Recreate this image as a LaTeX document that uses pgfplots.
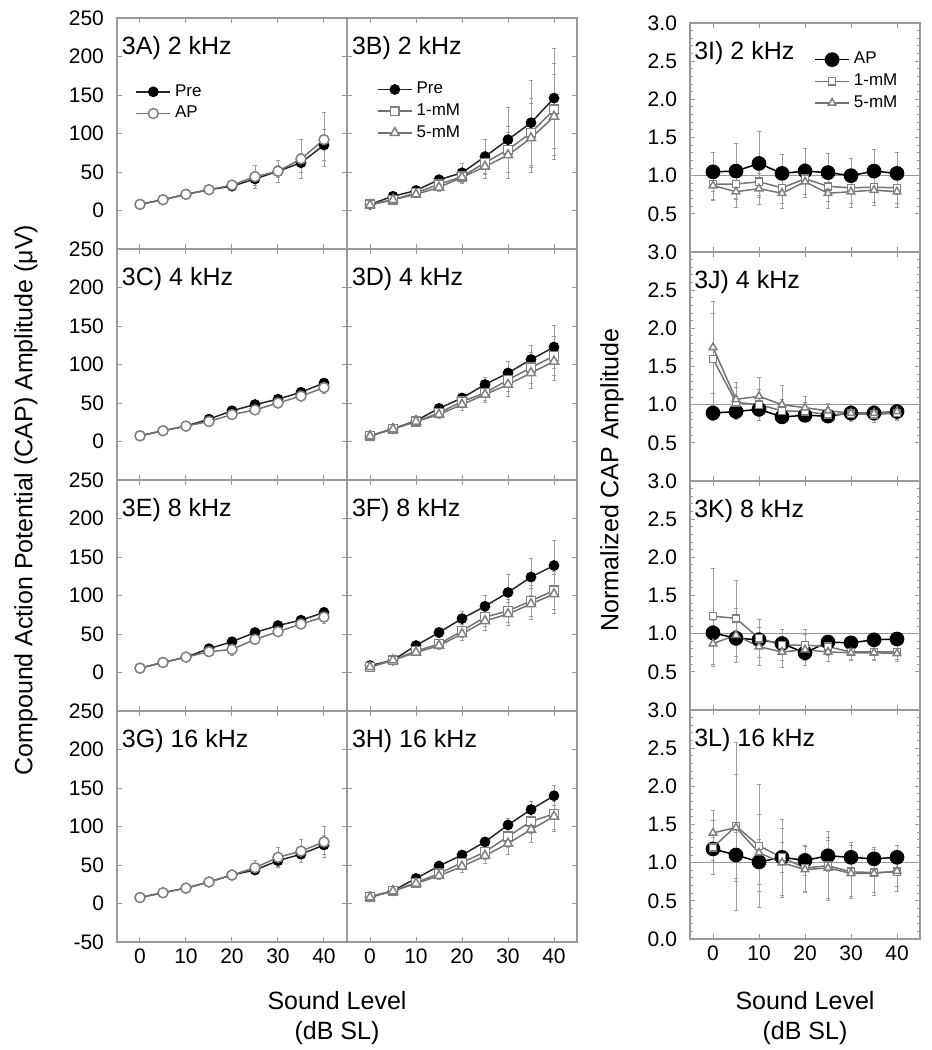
\documentclass[border=0pt]{standalone}
\usepackage{fontspec}
\setmainfont{Liberation Sans}
\usepackage{pgfplots}
\usepackage{pgfplotstable}
\pgfplotsset{compat=1.18}

\definecolor{axgray}{gray}{0.6}
\definecolor{lingray}{gray}{0.45}
\definecolor{mkgray}{gray}{0.5}
\definecolor{errgray}{gray}{0.62}

% ---------- data (amplitude panels): x, Pre, err, AP/1mM, err, 5mM, err
\pgfplotstableread{
x pre preE ap apE
0 8 1 8 1
5 14 2 14 2
10 21 2 21 3
15 27 3 27 3
20 31.5 4 33 5
25 41 8 44 15
30 51 8 51 14
35 62 12 67 25
40 85 20 92 35
}\tA
\pgfplotstableread{
x pre preE ma maE mb mbE
0 8 1 8 1 7 1
5 18.5 3 14 2 14 2
10 26 4 23 3 21 3
15 40 6 34 5 30 5
20 49 12 44 8 43 8
25 70 22 62 15 57 15
30 92 42 79 30 72 30
35 114 55 101 45 94 45
40 146 65 131 60 122 55
}\tB
\pgfplotstableread{
x pre preE ap apE
0 7.4 1 7.4 1
5 14 1.5 14 1.5
10 20 2 20 2
15 29 3 26 3
20 40 3 35 4
25 48 4 41 4
30 55 4 50 5
35 64 5 59 6
40 76 5 70 7
}\tC
\pgfplotstableread{
x pre preE ma maE mb mbE
0 7.4 1 7.4 1 7 1
5 16.5 2 16.5 2 16 2
10 27 3 26 3 26 3
15 43 4 37 5 35 5
20 56.5 6 52 8 48 8
25 74 9 63 10 61 10
30 89 15 80 15 74 15
35 106.5 18 96 20 89 20
40 122.6 28 111 25 104 25
}\tD
\pgfplotstableread{
x pre preE ap apE
0 5.7 1 5.7 1
5 13 1.5 13 1.5
10 20 2 20 2
15 31 3 27 3
20 40 3 30 8
25 52 4 43 5
30 61 4 53 5
35 68 5 63 6
40 78 7 72 8
}\tE
\pgfplotstableread{
x pre preE ma maE mb mbE
0 9 1 7 1 7 1
5 16 2 16 2 16 2
10 35 4 28 3 26 3
15 52 6 37 5 35 5
20 70 10 54 8 50 8
25 86 14 72 12 67 12
30 104 24 80 15 76 15
35 124 24 93 20 89 20
40 139 33 106.5 25 102 25
}\tF
\pgfplotstableread{
x pre preE ap apE
0 7.8 1 7.8 1
5 14 1.5 14 1.5
10 20 2 20 2
15 28 3 28 3
20 37 4 37 4
25 43.5 6 46.5 9
30 55.6 8 60 13
35 64 10 68 15
40 76 12 80 20
}\tG
\pgfplotstableread{
x pre preE ma maE mb mbE
0 8.7 1 8.7 1 8 1
5 16.5 2 16.5 2 16 2
10 32.6 3 27 3 26 3
15 48.7 4 39 5 36 5
20 63 5 53 7 48 7
25 80 6 67 10 62 10
30 102 8 87 14 78 14
35 122 10 106.5 16 96 16
40 140 13 116.5 20 113 20
}\tH
% ---------- normalized panels: x, AP, err, 1mM, err, 5mM, err
\pgfplotstableread{
x pre preE ma maE mb mbE
0 1.05 0.26 0.89 0.2 0.87 0.2
5 1.06 0.36 0.89 0.2 0.79 0.2
10 1.16 0.42 0.92 0.2 0.83 0.2
15 1.03 0.25 0.84 0.2 0.77 0.2
20 1.06 0.30 0.96 0.2 0.92 0.2
25 1.04 0.25 0.86 0.2 0.77 0.2
30 1.00 0.22 0.84 0.2 0.79 0.2
35 1.06 0.28 0.85 0.2 0.81 0.2
40 1.03 0.28 0.84 0.2 0.79 0.2
}\tI
\pgfplotstableread{
x pre preE ma maE mb mbE
0 0.89 0.10 1.60 0.60 1.75 0.60
5 0.91 0.10 1.03 0.20 1.07 0.22
10 0.94 0.10 1.00 0.20 1.11 0.25
15 0.84 0.08 0.92 0.15 1.00 0.25
20 0.86 0.08 0.91 0.12 0.96 0.15
25 0.85 0.08 0.87 0.10 0.92 0.10
30 0.89 0.08 0.88 0.10 0.89 0.10
35 0.89 0.08 0.87 0.10 0.89 0.10
40 0.91 0.08 0.89 0.10 0.91 0.10
}\tJ
\pgfplotstableread{
x pre preE ma maE mb mbE
0 1.01 0.10 1.23 0.63 0.87 0.30
5 0.94 0.10 1.20 0.50 0.98 0.35
10 0.92 0.10 0.94 0.25 0.83 0.25
15 0.87 0.10 0.85 0.20 0.76 0.20
20 0.75 0.10 0.85 0.20 0.79 0.20
25 0.89 0.08 0.83 0.12 0.76 0.12
30 0.88 0.08 0.76 0.10 0.75 0.10
35 0.92 0.08 0.76 0.10 0.75 0.10
40 0.93 0.08 0.76 0.10 0.74 0.10
}\tK
\pgfplotstableread{
x pre preE ma maE mb mbE
0 1.18 0.15 1.20 0.35 1.39 0.30
5 1.10 0.30 1.48 1.10 1.46 0.70
10 1.01 0.30 1.22 0.80 1.13 0.50
15 1.07 0.20 1.07 0.50 1.00 0.45
20 1.03 0.20 0.93 0.30 0.91 0.30
25 1.09 0.20 0.96 0.45 0.93 0.40
30 1.07 0.20 0.88 0.35 0.86 0.30
35 1.05 0.15 0.87 0.30 0.86 0.25
40 1.07 0.15 0.88 0.25 0.89 0.20
}\tL

\tikzset{plab/.style={anchor=west, inner sep=0pt, font=\fontsize{12.5}{14}\selectfont}}

\pgfplotsset{
  base/.style={scale only axis, width=115pt, xmin=-5, xmax=45,
    axis line style={axgray, line width=0.6pt},
    tick style={axgray, line width=0.5pt}, tick align=inside,
    major tick length=2.5pt, minor tick length=1.5pt,
    xtick={0,10,20,30,40}, xticklabels={},
    ticklabel style={font=\fontsize{10.5}{12}\selectfont},
    yticklabel style={xshift=-3pt},
    /pgf/number format/assume math mode=true,
    anchor=north west},
  ampl/.style={base, height=115.5pt, ymin=-50, ymax=250, ytick={0,50,...,250}},
  norm/.style={base, height=114.5pt, ymin=0, ymax=3, ytick={0.5,1,...,3},
    minor y tick num=4,
    yticklabel style={/pgf/number format/.cd, fixed, fixed zerofill, precision=1}},
  noy/.style={yticklabels={}},
  botx/.style={xticklabels={0,10,20,30,40}},
  errs/.style={/pgfplots/error bars/y dir=both, /pgfplots/error bars/y explicit,
    /pgfplots/error bars/error bar style={errgray, line width=0.4pt},
    /pgfplots/error bars/error mark options={errgray, line width=0.4pt, mark size=1.2pt, rotate=90}},
  spre/.style={errs, black!85, line width=0.75pt, mark=*, mark size=2.3pt,
    mark options={fill=black, draw=black, solid}},
  sap/.style={errs, lingray, line width=0.75pt, mark=*, mark size=2.5pt,
    mark options={fill=white, draw=mkgray, solid}},
  sma/.style={errs, lingray, line width=0.75pt, mark=square*, mark size=2.2pt,
    mark options={fill=white, draw=mkgray, solid}},
  smb/.style={errs, lingray, line width=0.75pt, mark=triangle*, mark size=2.6pt,
    mark options={fill=white, draw=mkgray, solid}},
  nap/.style={errs, black, line width=0.75pt, mark=*, mark size=3.3pt,
    mark options={fill=black, draw=black, solid}},
  nma/.style={errs, lingray, line width=0.75pt, mark=square*, mark size=1.8pt,
    mark options={fill=white, draw=mkgray, solid}},
  nmb/.style={errs, lingray, line width=0.75pt, mark=triangle*, mark size=2.2pt,
    mark options={fill=white, draw=mkgray, solid}},
  leg/.style={legend style={draw=none, fill=none, anchor=north west,
    font=\fontsize{8.5}{10}\selectfont, row sep=-0.5pt, inner sep=1pt},
    legend cell align=left},
}

\begin{document}
\begin{tikzpicture}
\useasboundingbox (0,0) rectangle (466pt,-525pt);

% ---------------- left column (amplitude, Pre vs AP)
\begin{axis}[ampl, at={(58.5pt,-9pt)}, leg, legend style={at={(0.07,0.74)}}]
\addplot[spre] table[x=x,y=pre,y error=preE]{\tA};
\addplot[sap] table[x=x,y=ap,y error=apE]{\tA};
\legend{Pre,AP}
\node[plab] at (rel axis cs:0.02,0.87) {3A) 2 kHz};
\end{axis}
\begin{axis}[ampl, at={(58.5pt,-124.5pt)}]
\addplot[spre] table[x=x,y=pre,y error=preE]{\tC};
\addplot[sap] table[x=x,y=ap,y error=apE]{\tC};
\node[plab] at (rel axis cs:0.02,0.87) {3C) 4 kHz};
\end{axis}
\begin{axis}[ampl, at={(58.5pt,-240pt)}]
\addplot[spre] table[x=x,y=pre,y error=preE]{\tE};
\addplot[sap] table[x=x,y=ap,y error=apE]{\tE};
\node[plab] at (rel axis cs:0.02,0.87) {3E) 8 kHz};
\end{axis}
\begin{axis}[ampl, botx, at={(58.5pt,-355.5pt)}, ytick={-50,0,...,250}]
\addplot[spre] table[x=x,y=pre,y error=preE]{\tG};
\addplot[sap] table[x=x,y=ap,y error=apE]{\tG};
\node[plab] at (rel axis cs:0.02,0.87) {3G) 16 kHz};
\end{axis}

% ---------------- middle column (amplitude, Pre vs 1-mM vs 5-mM)
\begin{axis}[ampl, noy, at={(173.5pt,-9pt)}, leg, legend style={at={(0.12,0.75)}}]
\addplot[spre] table[x=x,y=pre,y error=preE]{\tB};
\addplot[sma] table[x=x,y=ma,y error=maE]{\tB};
\addplot[smb] table[x=x,y=mb,y error=mbE]{\tB};
\legend{Pre,1-mM,5-mM}
\node[plab] at (rel axis cs:0.02,0.87) {3B) 2 kHz};
\end{axis}
\begin{axis}[ampl, noy, at={(173.5pt,-124.5pt)}]
\addplot[spre] table[x=x,y=pre,y error=preE]{\tD};
\addplot[sma] table[x=x,y=ma,y error=maE]{\tD};
\addplot[smb] table[x=x,y=mb,y error=mbE]{\tD};
\node[plab] at (rel axis cs:0.02,0.87) {3D) 4 kHz};
\end{axis}
\begin{axis}[ampl, noy, at={(173.5pt,-240pt)}]
\addplot[spre] table[x=x,y=pre,y error=preE]{\tF};
\addplot[sma] table[x=x,y=ma,y error=maE]{\tF};
\addplot[smb] table[x=x,y=mb,y error=mbE]{\tF};
\node[plab] at (rel axis cs:0.02,0.87) {3F) 8 kHz};
\end{axis}
\begin{axis}[ampl, noy, botx, at={(173.5pt,-355.5pt)}]
\addplot[spre] table[x=x,y=pre,y error=preE]{\tH};
\addplot[sma] table[x=x,y=ma,y error=maE]{\tH};
\addplot[smb] table[x=x,y=mb,y error=mbE]{\tH};
\node[plab] at (rel axis cs:0.02,0.87) {3H) 16 kHz};
\end{axis}

% ---------------- right column (normalized)
\begin{axis}[norm, at={(345pt,-11.5pt)}, leg, legend style={at={(0.53,0.9)}}]
\addplot[axgray, line width=0.5pt, forget plot] coordinates {(-5,1) (45,1)};
\addplot[nap] table[x=x,y=pre,y error=preE]{\tI};
\addplot[nma] table[x=x,y=ma,y error=maE]{\tI};
\addplot[nmb] table[x=x,y=mb,y error=mbE]{\tI};
\legend{AP,1-mM,5-mM}
\node[plab] at (rel axis cs:0.017,0.87) {3I) 2 kHz};
\end{axis}
\begin{axis}[norm, at={(345pt,-126pt)}]
\addplot[axgray, line width=0.5pt, forget plot] coordinates {(-5,1) (45,1)};
\addplot[nap] table[x=x,y=pre,y error=preE]{\tJ};
\addplot[nma] table[x=x,y=ma,y error=maE]{\tJ};
\addplot[nmb] table[x=x,y=mb,y error=mbE]{\tJ};
\node[plab] at (rel axis cs:0.017,0.87) {3J) 4 kHz};
\end{axis}
\begin{axis}[norm, at={(345pt,-240.5pt)}]
\addplot[axgray, line width=0.5pt, forget plot] coordinates {(-5,1) (45,1)};
\addplot[nap] table[x=x,y=pre,y error=preE]{\tK};
\addplot[nma] table[x=x,y=ma,y error=maE]{\tK};
\addplot[nmb] table[x=x,y=mb,y error=mbE]{\tK};
\node[plab] at (rel axis cs:0.017,0.87) {3K) 8 kHz};
\end{axis}
\begin{axis}[norm, botx, at={(345pt,-355pt)}, ytick={0,0.5,...,3}]
\addplot[axgray, line width=0.5pt, forget plot] coordinates {(-5,1) (45,1)};
\addplot[nap] table[x=x,y=pre,y error=preE]{\tL};
\addplot[nma] table[x=x,y=ma,y error=maE]{\tL};
\addplot[nmb] table[x=x,y=mb,y error=mbE]{\tL};
\node[plab] at (rel axis cs:0.017,0.87) {3L) 16 kHz};
\end{axis}

% ---------------- axis titles
\node[rotate=90, font=\fontsize{12.5}{14}\selectfont] at (13pt,-250pt)
  {Compound Action Potential (CAP) Amplitude (μV)};
\node[rotate=90, font=\fontsize{12.5}{14}\selectfont] at (306pt,-240pt)
  {Normalized CAP Amplitude};
\node[align=center, font=\fontsize{12.5}{15}\selectfont] at (168.5pt,-509pt)
  {Sound Level\\(dB SL)};
\node[align=center, font=\fontsize{12.5}{15}\selectfont] at (402.5pt,-509pt)
  {Sound Level\\(dB SL)};
\end{tikzpicture}
\end{document}
